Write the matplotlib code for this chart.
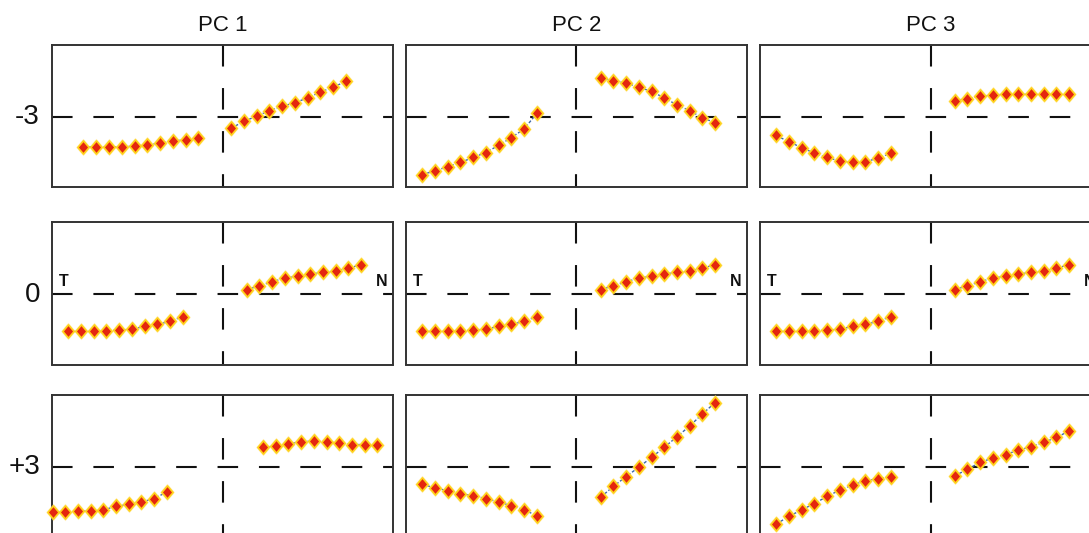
import matplotlib
matplotlib.use("Agg")
import matplotlib.pyplot as plt
from matplotlib.path import Path

plt.rcParams['font.family'] = ['Liberation Sans', 'DejaVu Sans']
plt.rcParams['lines.scale_dashes'] = False

# Column / row labels
pc_titles = ["PC 1", "PC 2", "PC 3"]
row_labels = ["-3", "0", "+3"]

# Horizontal positions of the T and N landmark series
x_std_T = [-0.905, -0.830, -0.756, -0.681, -0.606, -0.532, -0.457, -0.382, -0.308, -0.233]
x_std_N = [0.142, 0.216, 0.291, 0.365, 0.440, 0.514, 0.589, 0.663, 0.738, 0.812]
x_pc1m_T = [-0.816, -0.741, -0.666, -0.591, -0.516, -0.442, -0.367, -0.292, -0.217, -0.142]
x_pc1m_N = [0.050, 0.125, 0.200, 0.274, 0.349, 0.424, 0.499, 0.574, 0.648, 0.723]
x_pc1p_T = [-0.996, -0.922, -0.847, -0.773, -0.699, -0.625, -0.550, -0.476, -0.402, -0.327]
x_pc1p_N = [0.236, 0.311, 0.385, 0.460, 0.535, 0.610, 0.684, 0.759, 0.834, 0.908]

# Vertical positions (row -3, mean, +3) for each PC
pc1_m3_T = [-0.42, -0.42, -0.42, -0.42, -0.41, -0.39, -0.37, -0.34, -0.32, -0.29]
pc1_m3_N = [-0.16, -0.06, 0.01, 0.09, 0.15, 0.20, 0.27, 0.35, 0.42, 0.50]
pc2_m3_T = [-0.81, -0.76, -0.70, -0.64, -0.57, -0.50, -0.40, -0.29, -0.17, 0.05]
pc2_m3_N = [0.55, 0.51, 0.48, 0.42, 0.36, 0.27, 0.17, 0.09, -0.01, -0.08]
pc3_m3_T = [-0.26, -0.35, -0.43, -0.51, -0.57, -0.62, -0.64, -0.63, -0.58, -0.51]
pc3_m3_N = [0.23, 0.26, 0.29, 0.31, 0.32, 0.32, 0.32, 0.32, 0.32, 0.32]
mean_T = [-0.52, -0.52, -0.52, -0.51, -0.50, -0.49, -0.45, -0.42, -0.38, -0.31]
mean_N = [0.07, 0.12, 0.18, 0.23, 0.26, 0.29, 0.31, 0.33, 0.37, 0.42]
pc1_p3_T = [-0.63, -0.63, -0.62, -0.61, -0.60, -0.55, -0.52, -0.49, -0.44, -0.35]
pc1_p3_N = [0.28, 0.30, 0.33, 0.36, 0.37, 0.36, 0.34, 0.32, 0.32, 0.32]
pc2_p3_T = [-0.24, -0.29, -0.33, -0.37, -0.40, -0.44, -0.49, -0.54, -0.60, -0.68]
pc2_p3_N = [-0.42, -0.27, -0.13, 0.00, 0.14, 0.28, 0.43, 0.58, 0.75, 0.91]
pc3_p3_T = [-0.80, -0.69, -0.60, -0.51, -0.41, -0.32, -0.25, -0.19, -0.16, -0.13]
pc3_p3_N = [-0.12, -0.03, 0.07, 0.13, 0.18, 0.24, 0.29, 0.35, 0.42, 0.51]

panels = [
    [(x_pc1m_T, pc1_m3_T, x_pc1m_N, pc1_m3_N),
     (x_std_T, pc2_m3_T, x_std_N, pc2_m3_N),
     (x_std_T, pc3_m3_T, x_std_N, pc3_m3_N)],
    [(x_std_T, mean_T, x_std_N, mean_N),
     (x_std_T, mean_T, x_std_N, mean_N),
     (x_std_T, mean_T, x_std_N, mean_N)],
    [(x_pc1p_T, pc1_p3_T, x_pc1p_N, pc1_p3_N),
     (x_std_T, pc2_p3_T, x_std_N, pc2_p3_N),
     (x_std_T, pc3_p3_T, x_std_N, pc3_p3_N)],
]

W, H = 1089, 533
fig = plt.figure(figsize=(W / 100, H / 100), dpi=100)

col_left = [52, 406, 760]
row_top = [45, 222.5, 395.3]
pw, ph = 341, 142

diamond = Path([(0, 1), (0.85, 0), (0, -1), (-0.85, 0), (0, 1)],
               [Path.MOVETO, Path.LINETO, Path.LINETO, Path.LINETO, Path.CLOSEPOLY])

def draw_series(ax, xs, ys):
    ax.plot(xs, ys, color="#3d66a8", lw=1.0, ls=(0, (2.2, 1.4)), zorder=3)
    ax.plot(xs, ys, ls="none", marker=diamond, ms=12.5, mfc="#ffe27a",
            mec="none", alpha=0.6, zorder=4, clip_on=False)
    ax.plot(xs, ys, ls="none", marker=diamond, ms=9.5, mfc="#e4260f",
            mec="#ffd21a", mew=1.2, zorder=5, clip_on=False)

for r in range(3):
    for c in range(3):
        l = col_left[c]
        t = row_top[r]
        ax = fig.add_axes([l / W, 1 - (t + ph) / H, pw / W, ph / H])
        ax.set_xlim(-1, 1)
        ax.set_ylim(-70 / 71, 72 / 71)
        ax.set_xticks([])
        ax.set_yticks([])
        for s in ax.spines.values():
            s.set_color("#333333")
            s.set_linewidth(1.4)
        ax.plot([-1, 1], [0, 0], color="#111111", lw=1.5,
                ls=(0, (14.8, 15.0)), zorder=2)
        ax.plot([0, 0], [72 / 71, -70 / 71], color="#111111", lw=1.5,
                ls=(0, (15.5, 15.5)), zorder=2)
        xT, yT, xN, yN = panels[r][c]
        draw_series(ax, xT, yT)
        draw_series(ax, xN, yN)
        if r == 1:
            ax.text(-0.93, 0.19, "T", ha="center", va="center",
                    fontsize=11.5, fontweight="bold", color="#111111")
            ax.text(0.935, 0.19, "N", ha="center", va="center",
                    fontsize=11.5, fontweight="bold", color="#111111")

for c, title in enumerate(pc_titles):
    fig.text((col_left[c] + pw / 2) / W, 1 - 31 / H, title, ha="center",
             va="baseline", fontsize=16, color="#111111")

row_mid = [117.3, 295, 467.3]
for r, lab in enumerate(row_labels):
    fig.text(40 / W, 1 - row_mid[r] / H, lab, ha="right", va="center",
             fontsize=20, color="#111111")

fig.savefig("out.png", dpi=100)
